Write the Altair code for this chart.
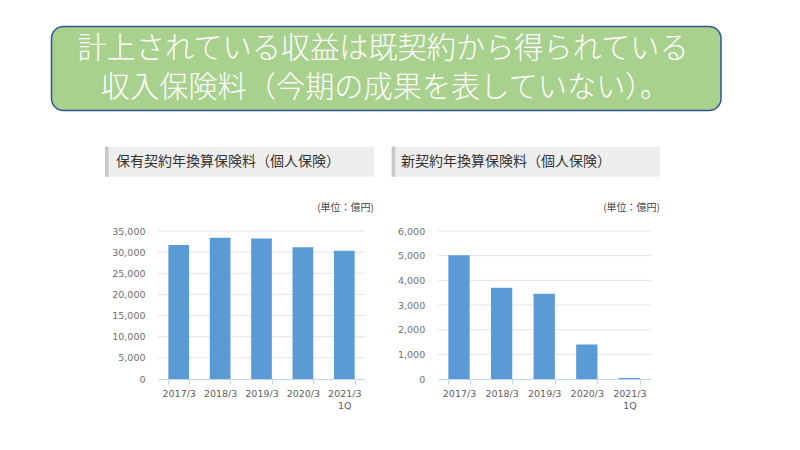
import altair as alt
import pandas as pd

# ---------------- data ----------------
categories = ["2017/3", "2018/3", "2019/3", "2020/3", "2021/3 1Q"]
hoyu_values = [31700, 33400, 33200, 31150, 30350]   # 保有契約年換算保険料
shin_values = [5020, 3700, 3460, 1400, 40]           # 新契約年換算保険料
hoyu_ticks = [0, 5000, 10000, 15000, 20000, 25000, 30000, 35000]
shin_ticks = [0, 1000, 2000, 3000, 4000, 5000, 6000]
banner_lines = ["計上されている収益は既契約から得られている",
                "収入保険料（今期の成果を表していない）。"]
panel_titles = ["保有契約年換算保険料（個人保険）", "新契約年換算保険料（個人保険）"]
unit_label = "(単位：億円)"

# ---------------- layout helpers ----------------
OX, OY = 158, 231          # page position of the plot origin
def px(x):
    return x - OX
def py(y):
    return y - OY

JP = "Noto Sans CJK JP"
NUM = "DejaVu Sans"
one = pd.DataFrame({"k": [0]})


def rect(x1, x2, y1, y2, **kw):
    return alt.Chart(one).mark_rect(**kw).encode(
        x=alt.value(px(x1)), x2=alt.value(px(x2)),
        y=alt.value(py(y1)), y2=alt.value(py(y2)))


def text(s, x, y, **kw):
    return alt.Chart(pd.DataFrame({"t": [s]})).mark_text(**kw).encode(
        text="t:N", x=alt.value(px(x)), y=alt.value(py(y)))


decor = [
    rect(51.5, 721, 26.5, 110.5, fill="#a9d18e", stroke="#2f5597",
         strokeWidth=1.5, cornerRadius=12),
    text(banner_lines[0], 383, 49.2, font=JP, fontSize=29.2, fontWeight=300,
         color="white", align="center", baseline="middle"),
    text(banner_lines[1], 385, 87.8, font=JP, fontSize=29.2, fontWeight=300,
         color="white", align="center", baseline="middle"),
    rect(105, 374, 146.7, 176.7, fill="#eeeeee"),
    rect(105, 108.5, 146.7, 176.7, fill="#c8c8c8"),
    rect(391.7, 660, 146.7, 176.7, fill="#eeeeee"),
    rect(391.7, 395.2, 146.7, 176.7, fill="#c8c8c8"),
    text(panel_titles[0], 116, 162, font=JP, fontSize=14, color="#333333",
         align="left", baseline="middle"),
    text(panel_titles[1], 401, 162, font=JP, fontSize=14, color="#333333",
         align="left", baseline="middle"),
    text(unit_label, 374, 208.3, font=JP, fontSize=10, color="#444444",
         align="right", baseline="middle"),
    text(unit_label, 660, 208.3, font=JP, fontSize=10, color="#444444",
         align="right", baseline="middle"),
]


def bar_panel(values, ticks, x0, x1):
    r0, r1 = px(x0), px(x1)
    df = pd.DataFrame({"cat": categories, "v": values})
    grid_df = pd.DataFrame({"g": [t for t in ticks if t > 0]})
    yscale = alt.Scale(domain=[ticks[0], ticks[-1]], nice=False, zero=True)
    xscale = alt.Scale(domain=categories, range=[r0, r1],
                       paddingInner=0.5, paddingOuter=0.25)
    yaxis = alt.Axis(values=ticks, format=",d", title=None, ticks=False,
                     domain=False, grid=False, labelPadding=13,
                     labelFont=NUM, labelFontSize=9.5, labelColor="#707070",
                     orient="left", offset=-r0)
    xaxis = alt.Axis(orient="bottom", title=None, labelAngle=0,
                     tickBand="extent", tickSize=5, tickColor="#bdd7ee",
                     domainColor="#bdd7ee", grid=False,
                     labelExpr="split(datum.label, ' ')", labelPadding=4,
                     labelLineHeight=12.5, labelFont=NUM, labelFontSize=9.5,
                     labelColor="#5e5e5e")
    grid = alt.Chart(grid_df).mark_rule(color="#e4e4e4", strokeWidth=1).encode(
        y=alt.Y("g:Q", scale=yscale, axis=yaxis),
        x=alt.value(r0), x2=alt.value(r1))
    bars = alt.Chart(df).mark_bar(color="#5b9bd5").encode(
        x=alt.X("cat:N", scale=xscale, sort=categories, axis=xaxis),
        y=alt.Y("v:Q", scale=yscale, axis=yaxis))
    return alt.layer(grid, bars)


left = bar_panel(hoyu_values, hoyu_ticks, 158, 365)
right = bar_panel(shin_values, shin_ticks, 437.7, 650.7)

chart = alt.layer(*decor, left, right).resolve_scale(
    x="independent", y="independent"
).properties(
    width=493, height=148,
    autosize=alt.AutoSizeParams(type="none"),
    padding={"left": 150, "top": 223, "right": 141, "bottom": 63},
    background="white",
).configure_view(stroke=None)

chart.save("out.html", embed_options={"renderer": "svg", "actions": False})
